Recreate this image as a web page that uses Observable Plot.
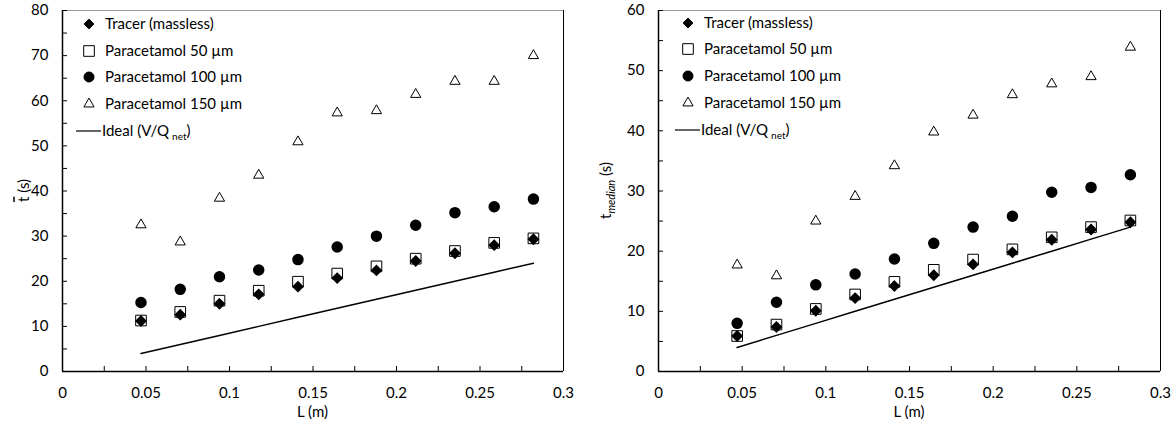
<!DOCTYPE html>
<html><head><meta charset="utf-8">
<script src="https://cdn.jsdelivr.net/npm/d3@7"></script>
<script src="https://cdn.jsdelivr.net/npm/@observablehq/plot@0.6"></script>
<style>
body{margin:0;background:#fff;}
#wrap{display:flex;width:1176px;height:427px;}
svg{font-family:Lato, "Open Sans", sans-serif;}
</style>
</head><body><div id="wrap"></div>
<script>
// ---- data ----
const L = [0.047, 0.0705, 0.094, 0.1175, 0.141, 0.1645, 0.188, 0.2115, 0.235, 0.2585, 0.282];
const idealT = [4, 6, 8, 10, 12, 14, 16, 18, 20, 22, 24];

const meanTracer = [11.2, 12.6, 15.0, 17.1, 18.8, 20.7, 22.4, 24.5, 26.2, 28.0, 29.3];
const mean50     = [11.3, 13.2, 15.7, 17.9, 19.9, 21.7, 23.3, 25.0, 26.7, 28.5, 29.5];
const mean100    = [15.3, 18.2, 21.0, 22.5, 24.8, 27.6, 30.0, 32.4, 35.2, 36.5, 38.2];
const mean150    = [32.5, 28.7, 38.4, 43.5, 50.9, 57.3, 57.8, 61.4, 64.3, 64.3, 70.0];

const medTracer  = [5.9, 7.4, 10.1, 12.2, 14.2, 16.0, 17.8, 19.8, 21.9, 23.6, 24.8];
const med50      = [5.9, 7.8, 10.4, 12.8, 14.9, 16.9, 18.6, 20.3, 22.3, 24.0, 25.1];
const med100     = [8.0, 11.5, 14.4, 16.2, 18.7, 21.3, 24.0, 25.8, 29.8, 30.6, 32.7];
const med150     = [17.7, 15.9, 25.0, 29.1, 34.2, 39.8, 42.6, 46.0, 47.8, 49.0, 53.9];

const seriesNames = ["Tracer (massless)", "Paracetamol 50 µm", "Paracetamol 100 µm", "Paracetamol 150 µm", "Ideal (V/Q"];
const xTickLabels = [0, 0.05, 0.1, 0.15, 0.2, 0.25, 0.3];
const xMinorTicks = [0, 0.025, 0.05, 0.075, 0.1, 0.125, 0.15, 0.175, 0.2, 0.225, 0.25, 0.275, 0.3];
const yTicksLeft = [0, 10, 20, 30, 40, 50, 60, 70, 80];
const yMinorLeft = [0, 5, 10, 15, 20, 25, 30, 35, 40, 45, 50, 55, 60, 65, 70, 75, 80];
const yTicksRight = [0, 10, 20, 30, 40, 50, 60];
const yMinorRight = [0, 5, 10, 15, 20, 25, 30, 35, 40, 45, 50, 55, 60];

// ---- styles ----
const FS = 15;
const sym = {
  tracer: {symbol: "diamond2", r: 4.4, fill: "black", stroke: "black"},
  p50:    {symbol: "square", r: 6.0, fill: "none", stroke: "black", strokeWidth: 1},
  p100:   {symbol: "circle", r: 5.0, fill: "black", stroke: "black"},
  p150:   {symbol: "triangle", r: 3.8, fill: "none", stroke: "black", strokeWidth: 1}
};

function rows(ys) { return L.map((x, i) => ({x, y: ys[i]})); }

function makeChart(opt) {
  const {width, ml, mr, yMax, yTicks, yMinor, tr, s50, s100, s150, legendDx} = opt;
  const plot = Plot.plot({
    width, height: 427,
    marginLeft: ml, marginRight: mr, marginTop: 10, marginBottom: 56,
    style: {fontFamily: "Lato, 'Open Sans', sans-serif", fontSize: FS + "px", background: "white", color: "black"},
    x: {domain: [0, 0.3]},
    y: {domain: [0, yMax]},
    marks: [
      Plot.ruleY([yMax], {stroke: "#9a9a9a", strokeWidth: 1}),
      Plot.ruleX([0.3], {stroke: "#000", strokeWidth: 1}),
      Plot.axisX({ticks: xMinorTicks, tickSize: -5, tickFormat: () => "", label: null, strokeWidth: 1}),
      Plot.axisY({ticks: yMinor, tickSize: -5, tickFormat: () => "", label: null, strokeWidth: 1}),
      Plot.axisX({ticks: xTickLabels, tickSize: 0, tickPadding: 16, tickFormat: d => String(d), label: null, fontSize: FS}),
      Plot.axisY({ticks: yTicks, tickSize: 0, tickPadding: 14, tickFormat: d => String(d), label: null, fontSize: FS}),
      Plot.ruleX([0], {stroke: "black", strokeWidth: 1.5}),
      Plot.ruleY([0], {stroke: "black", strokeWidth: 1.5}),
      Plot.line(rows(idealT), {x: "x", y: "y", stroke: "black", strokeWidth: 1.5}),
      Plot.dot(rows(s150), {x: "x", y: "y", ...sym.p150}),
      Plot.dot(rows(s100), {x: "x", y: "y", ...sym.p100}),
      Plot.dot(rows(s50), {x: "x", y: "y", ...sym.p50}),
      Plot.dot(rows(tr), {x: "x", y: "y", ...sym.tracer})
    ]
  });
  const svg = d3.select(plot);
  // x label
  svg.append("text").attr("x", ml + (width - ml - mr) / 2).attr("y", 417)
    .attr("text-anchor", "middle").attr("font-size", FS).attr("fill", "black").text("L (m)");
  // y label
  const yl = svg.append("text").attr("transform", `translate(${opt.ylx},190.5) rotate(-90)`)
    .attr("text-anchor", "middle").attr("font-size", FS).attr("fill", "black");
  opt.yLabel(yl);
  // legend
  const g = svg.append("g").attr("transform", `translate(${ml + legendDx},0)`).attr("text-anchor", "start");
  const rowsY = opt.legendRows;
  const symDefs = [sym.tracer, sym.p50, sym.p100, sym.p150];
  const d3sym = {diamond2: d3.symbolDiamond2, square: d3.symbolSquare, circle: d3.symbolCircle, triangle: d3.symbolTriangle};
  symDefs.forEach((s, i) => {
    g.append("path").attr("transform", `translate(0,${rowsY[i]})`)
      .attr("d", d3.symbol(d3sym[s.symbol], Math.PI * s.r * s.r)())
      .attr("fill", s.fill).attr("stroke", s.stroke).attr("stroke-width", s.strokeWidth || 1);
    g.append("text").attr("x", 16).attr("y", rowsY[i]).attr("dy", "0.35em")
      .attr("font-size", FS).attr("fill", "black").attr("text-anchor", "start").text(seriesNames[i]);
  });
  g.append("line").attr("x1", -13).attr("x2", 12).attr("y1", rowsY[4]).attr("y2", rowsY[4])
    .attr("stroke", "black").attr("stroke-width", 1.2);
  const t = g.append("text").attr("x", 13).attr("y", rowsY[4]).attr("dy", "0.35em")
    .attr("font-size", FS).attr("fill", "black").attr("text-anchor", "start");
  t.append("tspan").text(seriesNames[4]);
  t.append("tspan").attr("font-size", 10).attr("dy", "4").attr("dx", "3").text("net");
  t.append("tspan").attr("dy", "-4").text(")");
  return plot;
}

const wrap = document.getElementById("wrap");
wrap.appendChild(makeChart({
  width: 588, ml: 62, mr: 25, yMax: 80, yTicks: yTicksLeft, yMinor: yMinorLeft,
  tr: meanTracer, s50: mean50, s100: mean100, s150: mean150,
  legendDx: 27, legendRows: [24, 51, 77, 104, 131], ylx: 24,
  yLabel: (el) => {
    el.attr("dy", "0.35em");
    el.append("tspan").style("text-decoration", "overline").text("t");
    el.append("tspan").text(" (s)");
  }
}));
wrap.appendChild(makeChart({
  width: 588, ml: 70, mr: 16, yMax: 60, yTicks: yTicksRight, yMinor: yMinorRight,
  tr: medTracer, s50: med50, s100: med100, s150: med150,
  legendDx: 30, legendRows: [23, 49, 76, 103, 130], ylx: 18,
  yLabel: (el) => {
    el.attr("dy", "0.35em");
    el.append("tspan").text("t");
    el.append("tspan").attr("font-size", 11).attr("font-style", "italic").attr("dy", 4).text("median");
    el.append("tspan").attr("dy", -4).text(" (s)");
  }
}));
</script>
</body></html>
